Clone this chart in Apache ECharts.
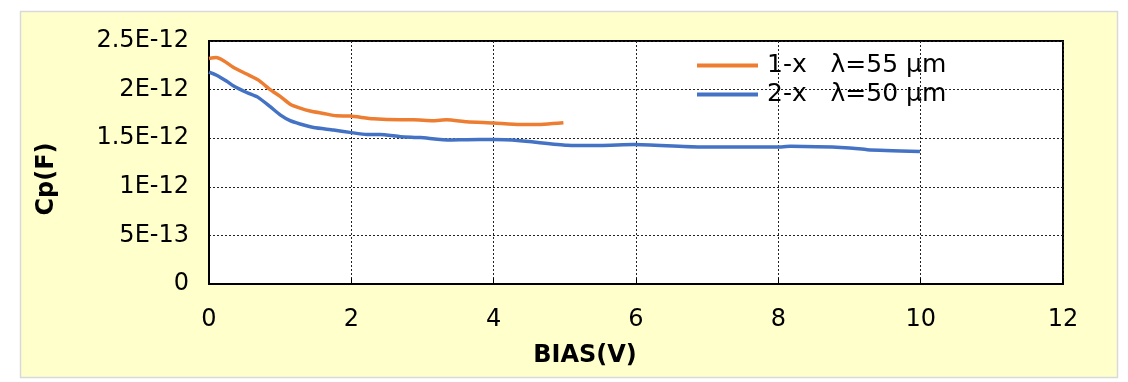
<!DOCTYPE html>
<html>
<head>
<meta charset="utf-8">
<script src="https://cdn.jsdelivr.net/npm/echarts@6/dist/echarts.min.js"></script>
<style>
    html, body {margin: 0; padding: 0; background: #fff;}
    #chart {width: 1128px; height: 382px;}
</style>
</head>
<body>
<div id="chart"></div>
<script>
// 1-x, lambda=55um
var biasA = [0, 0.1, 0.2, 0.34, 0.53, 0.69, 0.86, 1.0, 1.14, 1.28, 1.42, 1.61, 1.79, 1.98, 2.31, 2.69, 2.87, 3.15, 3.34, 3.62, 4.0, 4.37, 4.56, 4.98];
var cpA = [2.32e-12, 2.33e-12, 2.30e-12, 2.23e-12, 2.16e-12, 2.10e-12, 2.00e-12, 1.93e-12, 1.85e-12, 1.81e-12, 1.78e-12, 1.755e-12, 1.73e-12, 1.728e-12,
    1.70e-12, 1.69e-12, 1.69e-12, 1.68e-12, 1.69e-12, 1.67e-12, 1.657e-12, 1.64e-12, 1.64e-12, 1.66e-12];
// 2-x, lambda=50um
var biasB = [0, 0.1, 0.25, 0.34, 0.53, 0.69, 0.86, 1.0, 1.14, 1.28, 1.47, 1.75, 1.98, 2.22, 2.40, 2.69, 2.97, 3.39, 3.62, 4.0, 4.37, 4.56, 5.03, 5.5, 5.97, 6.9, 7.98, 8.17, 9.0, 9.25, 9.99];
var cpB = [2.18e-12, 2.15e-12, 2.085e-12, 2.04e-12, 1.97e-12, 1.92e-12, 1.824e-12, 1.74e-12, 1.68e-12, 1.646e-12, 1.61e-12, 1.585e-12, 1.56e-12, 1.537e-12,
    1.537e-12, 1.516e-12, 1.506e-12, 1.482e-12, 1.485e-12, 1.486e-12, 1.475e-12, 1.46e-12, 1.428e-12, 1.425e-12, 1.434e-12, 1.41e-12, 1.41e-12, 1.416e-12,
    1.40e-12, 1.382e-12, 1.363e-12];
var seriesNames = ['1-x   \u03bb=55 \u00b5m', '2-x   \u03bb=50 \u00b5m'];

function pairs(xs, ys) {
    var out = [];
    for (var i = 0; i < xs.length; i++) {
        out.push([xs[i], ys[i]]);
    }
    return out;
}

//0 -> "0", 5e-13 -> "5E-13"
function fmtE(v) {
    if (Math.abs(v) < 1e-20) return '0';
    var s = Number(v.toPrecision(6)).toExponential();
    return s.replace('e', 'E').replace('+', '');
}

var font = 'DejaVu Sans';
var chart = echarts.init(document.getElementById('chart'));
var option = {
    backgroundColor: '#fff',
    animation: false,
    graphic: [{
        type: 'rect',
        z: -10,
        shape: {x: 20.5, y: 11.5, width: 1097, height: 366},
        style: {fill: '#FFFFCC', stroke: '#D9D9D9', lineWidth: 1.5}
    }],
    legend: {
        left: 692,
        top: 48,
        orient: 'vertical',
        itemWidth: 61,
        itemHeight: 4,
        itemGap: 4,
        icon: 'rect',
        textStyle: {fontFamily: font, fontSize: 25, color: '#000', padding: [0, 0, 0, 4]},
        data: seriesNames
    },
    grid: {
        left: 209,
        right: 65,
        top: 41,
        bottom: 98,
        show: true,
        backgroundColor: '#fff',
        borderColor: '#000',
        borderWidth: 2
    },
    xAxis: {
        type: 'value',
        min: 0,
        max: 12,
        interval: 2,
        name: 'BIAS(V)',
        nameLocation: 'middle',
        nameGap: 60,
        nameTextStyle: {fontFamily: font, fontSize: 24, fontWeight: 'bold', color: '#000', padding: [0, 102, 0, 0]},
        axisLine: {lineStyle: {color: '#000', width: 2}},
        axisTick: {show: true, inside: true, length: 6, lineStyle: {color: '#000'}},
        axisLabel: {fontFamily: font, fontSize: 24, color: '#000', margin: 24},
        splitLine: {show: true, lineStyle: {color: '#222', type: [2, 2], width: 1}}
    },
    yAxis: {
        type: 'value',
        min: 0,
        max: 2.5e-12,
        interval: 5e-13,
        name: 'Cp(F)',
        nameLocation: 'middle',
        nameGap: 150,
        nameRotate: 90,
        nameTextStyle: {fontFamily: font, fontSize: 24, fontWeight: 'bold', color: '#000', padding: [0, 33, 0, 0]},
        axisLine: {show: true, lineStyle: {color: '#000', width: 2}},
        axisTick: {show: false},
        axisLabel: {fontFamily: font, fontSize: 24, color: '#000', margin: 20, formatter: fmtE},
        splitLine: {show: true, lineStyle: {color: '#222', type: [2, 2], width: 1}}
    },
    series: [{
        name: seriesNames[0],
        type: 'line',
        showSymbol: false,
        smooth: 0.2,
        color: '#ED7D31',
        lineStyle: {width: 3.5},
        data: pairs(biasA, cpA)
    }, {
        name: seriesNames[1],
        type: 'line',
        showSymbol: false,
        smooth: 0.2,
        color: '#4472C4',
        lineStyle: {width: 3.5},
        data: pairs(biasB, cpB)
    }]
};
chart.setOption(option);
</script>
</body>
</html>
